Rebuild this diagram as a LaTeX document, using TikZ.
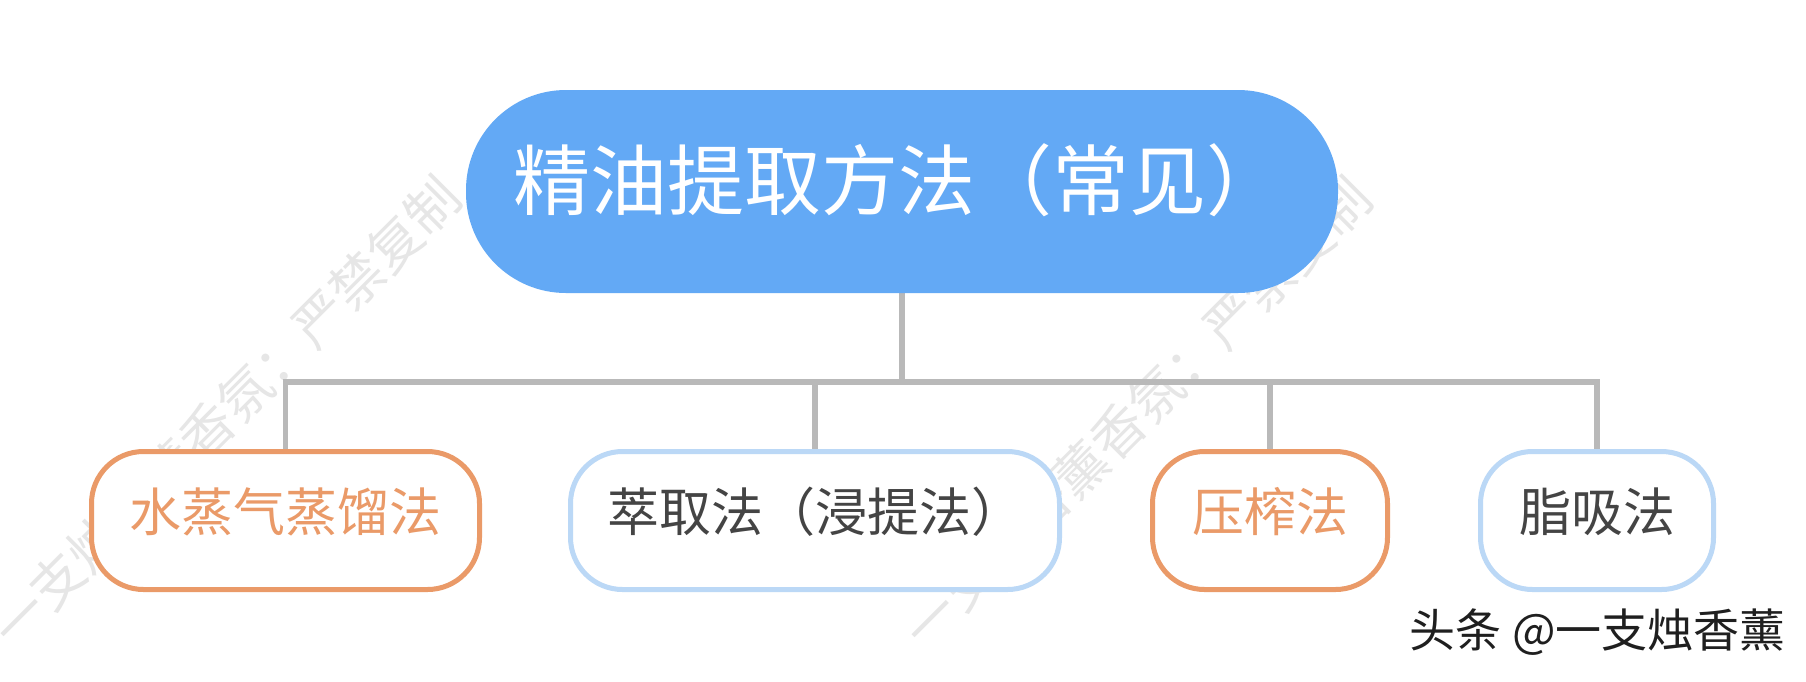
\documentclass[tikz,border=0pt]{standalone}
\usepackage{fontspec}
\setmainfont{Noto Sans CJK SC}
\usetikzlibrary{backgrounds}
\definecolor{rootblue}{HTML}{63A9F5}
\definecolor{orangeline}{HTML}{EA9A68}
\definecolor{paleblue}{HTML}{BBD8F6}
\definecolor{linegray}{HTML}{B9B9B9}
\definecolor{darktext}{HTML}{444444}
\definecolor{wmgray}{HTML}{E6E6E6}
\tikzset{
  rootbox/.style={fill=rootblue, text=white, rounded corners=100pt,
    minimum width=872pt, minimum height=203pt, inner sep=0pt,
    font=\fontsize{77}{80}\selectfont, text height=60pt, text depth=24pt},
  childbox/.style={draw, line width=5pt, fill=white, rounded corners=52pt,
    minimum height=138pt, inner sep=0pt,
    font=\fontsize{52}{56}\selectfont, text height=44pt, text depth=22.6pt},
  hotbox/.style={childbox, draw=orangeline, text=orangeline},
  coolbox/.style={childbox, draw=paleblue, text=darktext},
  conn/.style={draw=linegray, line width=5.5pt},
  watermark/.style={text=wmgray, rotate=45, inner sep=0pt,
    font=\fontsize{53}{56}\selectfont},
  credit/.style={text=black!88, inner sep=0pt, font=\fontsize{46}{50}\selectfont}
}
\begin{document}
\begin{tikzpicture}[x=1pt,y=-1pt]
\useasboundingbox (0,0) rectangle (1806,681);
% root
\node[rootbox] (root) at (902,191.5) {精油提取方法（常见）\kern8pt};
% children
\node[hotbox, minimum width=388pt] (a) at (285.5,520.5) {水蒸气蒸馏法};
\node[coolbox, minimum width=489pt] (b) at (815,520.5) {萃取法（浸提法）};
\node[hotbox, minimum width=235pt] (c) at (1270,520.5) {压榨法};
\node[coolbox, minimum width=233pt] (d) at (1597,520.5) {脂吸法};
\coordinate (bus) at (0,382);
\begin{pgfonlayer}{background}
\fill[white] (0,0) rectangle (1806,681);
% faint diagonal watermarks
\node[watermark] (wm1) at (226,412) {一支烛香薰香氛：严禁复制};
\node[watermark] (wm2) at (1137,413) {一支烛香薰香氛：严禁复制};
% connectors
\draw[conn] (root.south) -- (root.south |- bus);
\draw[conn] (a.north) -- (a.north |- bus) -- (d.north |- bus) -- (d.north);
\draw[conn] (b.north |- bus) -- (b.north);
\draw[conn] (c.north |- bus) -- (c.north);
\end{pgfonlayer}
% credit
\node[credit, anchor=east] (credit) at (1786,632) {头条 @一支烛香薰};
\end{tikzpicture}
\end{document}
